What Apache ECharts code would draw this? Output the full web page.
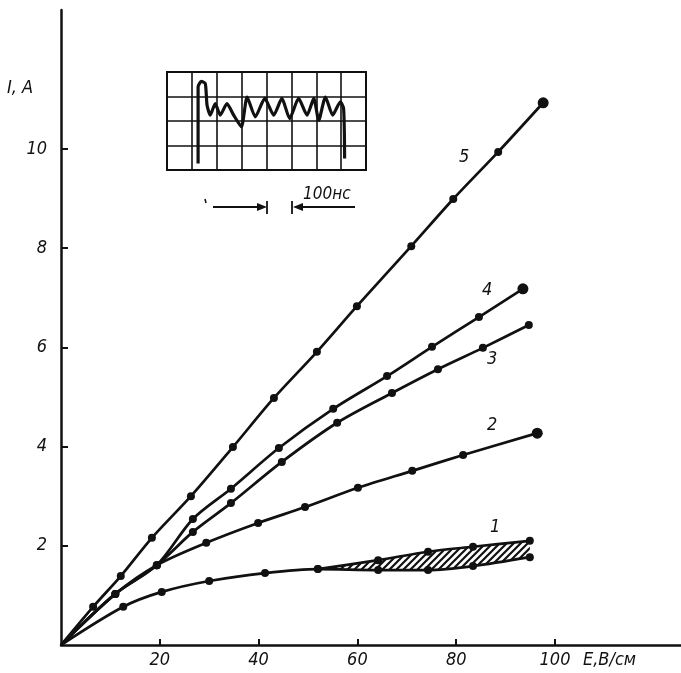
<!DOCTYPE html>
<html>
<head>
<meta charset="utf-8">
<script src="https://cdn.jsdelivr.net/npm/echarts@6/dist/echarts.min.js"></script>
<style>
  html, body { margin: 0; padding: 0; background: #fff; }
  #chart { width: 681px; height: 673px; }
</style>
</head>
<body>
<div id="chart"></div>
<script>
// ticks shown on the axes
var xTicks = [20, 40, 60, 80, 100];
var yTicks = [2, 4, 6, 8, 10];

// curves, [E (V/cm), I (A)]
var curve1Low = [[0, 0], [12.6, 0.77], [20.4, 1.07], [30, 1.29], [41.3, 1.45], [52, 1.53], [64.2, 1.51], [74.3, 1.51], [83.4, 1.59], [94.9, 1.77]];
var curve1High = [[52, 1.53], [64.2, 1.71], [74.3, 1.88], [83.4, 1.98], [94.9, 2.10]];
var curve2 = [[0, 0], [11, 1.03], [19.4, 1.61], [29.4, 2.06], [39.9, 2.46], [49.4, 2.78], [60.1, 3.17], [71.1, 3.51], [81.4, 3.83], [96.4, 4.27]];
var curve3 = [[0, 0], [11, 1.03], [19.4, 1.61], [26.7, 2.28], [34.4, 2.86], [44.7, 3.69], [55.9, 4.48], [67, 5.08], [76.3, 5.56], [85.4, 5.99], [94.7, 6.45]];
var curve4 = [[0, 0], [11, 1.03], [19.4, 1.61], [26.7, 2.54], [34.4, 3.15], [44.1, 3.97], [55.1, 4.76], [66, 5.42], [75.1, 6.01], [84.6, 6.61], [93.5, 7.18]];
var curve5 = [[0, 0], [6.5, 0.77], [12.1, 1.39], [18.4, 2.16], [26.3, 3.0], [34.8, 3.99], [43.1, 4.98], [51.8, 5.91], [59.9, 6.83], [70.9, 8.04], [79.4, 8.99], [88.5, 9.94], [97.6, 10.93]];

// oscillogram inset: trace in graticule divisions (8 x 4)
var traceT = [1.25, 1.25, 1.38, 1.54, 1.61, 1.74, 1.94, 2.14, 2.41, 2.68, 2.99, 3.22, 3.55, 3.93, 4.29, 4.62, 4.93, 5.29, 5.63, 5.90, 6.10, 6.37, 6.66, 6.97, 7.10, 7.14];
var traceV = [0.27, 3.39, 3.62, 3.53, 2.64, 2.24, 2.71, 2.24, 2.71, 2.24, 1.76, 2.98, 2.17, 2.92, 2.24, 2.92, 2.10, 2.92, 2.24, 2.92, 2.03, 2.98, 2.24, 2.78, 2.51, 0.47];

var ink = '#111';
var font = "'DejaVu Sans Condensed', 'DejaVu Sans', sans-serif";
var smoothness = 0.3;

// hatching for the band of curve 1
var hatch = document.createElement('canvas');
hatch.width = 7; hatch.height = 7;
var hc = hatch.getContext('2d');
hc.fillStyle = '#fff';
hc.fillRect(0, 0, 7, 7);
hc.strokeStyle = ink;
hc.lineWidth = 2.2;
hc.beginPath();
hc.moveTo(0, 7); hc.lineTo(7, 0);
hc.moveTo(-1, 1); hc.lineTo(1, -1);
hc.moveTo(6, 8); hc.lineTo(8, 6);
hc.stroke();

// band between the two edges of curve 1: [E, lower I, upper I]
var bandLow = curve1Low.slice(5);
var band = curve1High.map(function (p, i) { return [p[0], bandLow[i][1], p[1]]; });

function curveSeries(name, data, bigEnd) {
  return {
    name: name,
    type: 'line',
    data: data,
    smooth: smoothness,
    symbol: 'circle',
    symbolSize: function (v, p) {
      if (v[0] === 0) return 0;
      return (bigEnd && p.dataIndex === data.length - 1) ? 11 : 8;
    },
    itemStyle: { color: ink },
    lineStyle: { color: ink, width: 2.7 },
    silent: true,
    z: 4
  };
}

function label(text, x, y, size) {
  return {
    type: 'text', left: x, top: y,
    style: { text: text, fill: ink, font: 'italic ' + (size || 18) + 'px ' + font }
  };
}

var chart = echarts.init(document.getElementById('chart'));
chart.setOption({
  animation: false,
  backgroundColor: '#fff',
  grid: [
    { left: 61, top: 10, right: 0, bottom: 28, outerBoundsMode: 'none' },
    { left: 167, top: 72, width: 199, height: 98, show: true, borderColor: ink, borderWidth: 2, outerBoundsMode: 'none' }
  ],
  xAxis: [
    {
      type: 'value', min: 0, max: 125.5,
      axisLine: { show: true, onZero: false, lineStyle: { color: ink, width: 2.5 } },
      axisTick: { show: true, inside: true, length: 6, customValues: xTicks, lineStyle: { color: ink, width: 2 } },
      axisLabel: { customValues: xTicks, margin: 6, color: ink, fontSize: 18, fontStyle: 'italic', fontFamily: font },
      splitLine: { show: false }
    },
    {
      gridIndex: 1, type: 'value', min: 0, max: 8, interval: 1,
      axisLine: { show: false }, axisTick: { show: false }, axisLabel: { show: false },
      splitLine: { show: true, lineStyle: { color: ink, width: 1.6 } }
    }
  ],
  yAxis: [
    {
      type: 'value', min: 0, max: 12.8,
      axisLine: { show: true, onZero: false, lineStyle: { color: ink, width: 2.5 } },
      axisTick: { show: true, inside: true, length: 7, customValues: yTicks, lineStyle: { color: ink, width: 2 } },
      axisLabel: { customValues: yTicks, margin: 14, color: ink, fontSize: 18, fontStyle: 'italic', fontFamily: font },
      splitLine: { show: false }
    },
    {
      gridIndex: 1, type: 'value', min: 0, max: 4, interval: 1,
      axisLine: { show: false }, axisTick: { show: false }, axisLabel: { show: false },
      splitLine: { show: true, lineStyle: { color: ink, width: 1.6 } }
    }
  ],
  series: [
    {
      // hatched band of curve 1, drawn as one polygon
      type: 'custom',
      data: band,
      silent: true,
      z: 2,
      renderItem: function (params, api) {
        if (params.dataIndex !== 0) return null;
        var pts = [];
        band.forEach(function (b) { pts.push(api.coord([b[0], b[2]])); });
        band.slice().reverse().forEach(function (b) { pts.push(api.coord([b[0], b[1]])); });
        return {
          type: 'polygon',
          shape: { points: pts },
          style: { fill: { image: hatch, repeat: 'repeat' }, stroke: null }
        };
      }
    },
    curveSeries('1', curve1Low, false),
    curveSeries('1a', curve1High, false),
    curveSeries('2', curve2, true),
    curveSeries('3', curve3, false),
    curveSeries('4', curve4, true),
    curveSeries('5', curve5, true),
    {
      type: 'line', xAxisIndex: 1, yAxisIndex: 1,
      data: traceT.map(function (t, i) { return [t, traceV[i]]; }),
      symbol: 'none', smooth: 0.2,
      lineStyle: { color: ink, width: 3.2 },
      silent: true, z: 5
    }
  ],
  graphic: [
    label('I, A', 7, 79),
    label('E,В/см', 583, 651),
    label('5', 459, 148),
    label('4', 482, 281),
    label('3', 487, 350),
    label('2', 487, 416),
    label('1', 490, 518),
    label('100нс', 303, 186, 17),
    { type: 'line', shape: { x1: 205, y1: 199, x2: 206, y2: 203 }, style: { stroke: ink, lineWidth: 1.5 } },
    { type: 'line', shape: { x1: 213, y1: 207, x2: 262, y2: 207 }, style: { stroke: ink, lineWidth: 1.8 } },
    { type: 'polygon', shape: { points: [[257, 203], [267, 207], [257, 211]] }, style: { fill: ink } },
    { type: 'line', shape: { x1: 267, y1: 201, x2: 267, y2: 214 }, style: { stroke: ink, lineWidth: 1.8 } },
    { type: 'line', shape: { x1: 292, y1: 201, x2: 292, y2: 214 }, style: { stroke: ink, lineWidth: 1.8 } },
    { type: 'line', shape: { x1: 296, y1: 207, x2: 355, y2: 207 }, style: { stroke: ink, lineWidth: 1.8 } },
    { type: 'polygon', shape: { points: [[303, 203], [293, 207], [303, 211]] }, style: { fill: ink } }
  ]
});
</script>
</body>
</html>
